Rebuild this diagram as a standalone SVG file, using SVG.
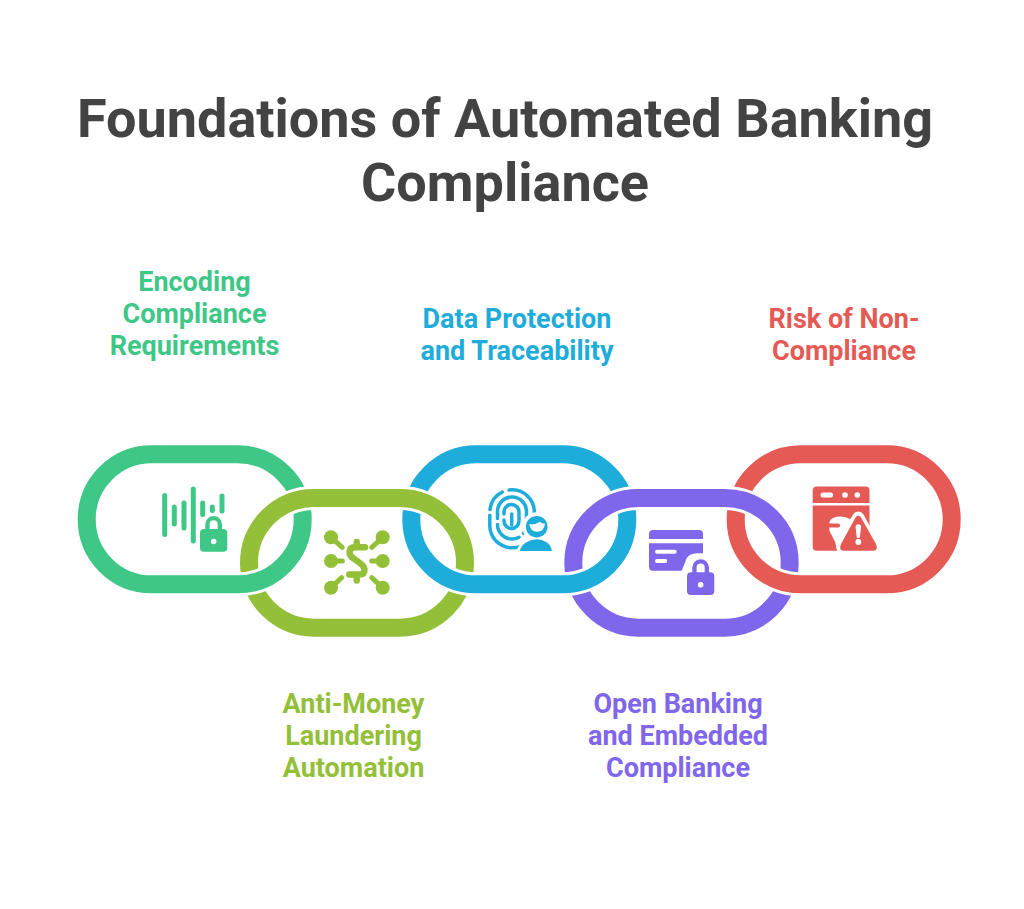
<svg xmlns="http://www.w3.org/2000/svg" width="1024" height="909" viewBox="0 0 1024 909">
<style>
text{font-family:Roboto,"Liberation Sans",sans-serif;text-anchor:middle}
.t{font-size:54px;font-weight:700;fill:#434343}
.l{font-size:27px;font-weight:700}
.ring{fill:none;stroke-width:18}
.cut{fill:none;stroke:#000;stroke-width:24}
.g{stroke:#3ec787}.gf{fill:#3ec787}
.o{stroke:#93bf39}.of{fill:#93bf39}
.b{stroke:#1eaddb}.bf{fill:#1eaddb}
.p{stroke:#8066ea}.pf{fill:#8066ea}
.r{stroke:#e55a55}.rf{fill:#e55a55}
.rl{fill:none;stroke-linecap:round}
.w{fill:#fff}
</style>
<defs>
<mask id="m1" maskUnits="userSpaceOnUse" x="0" y="0" width="1024" height="909"><rect width="1024" height="909" fill="#fff"/>
<path class="cut" d="M249 563A65 65 0 0 1 314 498H400A65 65 0 0 1 465 563"/></mask>
<mask id="m2" maskUnits="userSpaceOnUse" x="0" y="0" width="1024" height="909"><rect width="1024" height="909" fill="#fff"/>
<path class="cut" d="M302.7 519.3A65 65 0 0 1 237.7 584.3H151.7"/>
<path class="cut" d="M411.3 519.3A65 65 0 0 0 476.3 584.3H562.3A65 65 0 0 0 627.3 519.3"/></mask>
<mask id="m3" maskUnits="userSpaceOnUse" x="0" y="0" width="1024" height="909"><rect width="1024" height="909" fill="#fff"/>
<path class="cut" d="M249 563A65 65 0 0 1 314 498H400A65 65 0 0 1 465 563"/>
<path class="cut" d="M573.3 563A65 65 0 0 1 638.3 498H724.7A65 65 0 0 1 789.7 563"/></mask>
<mask id="m4" maskUnits="userSpaceOnUse" x="0" y="0" width="1024" height="909"><rect width="1024" height="909" fill="#fff"/>
<path class="cut" d="M411.3 519.3A65 65 0 0 0 476.3 584.3H562.3A65 65 0 0 0 627.3 519.3"/>
<path class="cut" d="M735.7 519.3A65 65 0 0 0 800.7 584.3H886.7"/></mask>
<mask id="m5" maskUnits="userSpaceOnUse" x="0" y="0" width="1024" height="909"><rect width="1024" height="909" fill="#fff"/>
<path class="cut" d="M573.3 563A65 65 0 0 1 638.3 498H724.7A65 65 0 0 1 789.7 563"/></mask>
<g id="lock">
<rect x="0" y="13" width="27.3" height="22.7" rx="4"/>
<path d="M7.45 14V8.35A6.2 6.2 0 0 1 19.85 8.35V14" fill="none" stroke="currentColor" stroke-width="4.3"/>
<circle cx="13.65" cy="25.5" r="2.8" class="w"/>
</g>
</defs>

<text class="t" x="505" y="137">Foundations of Automated Banking</text>
<text class="t" x="505" y="201">Compliance</text>

<g id="connectors"></g>

<g id="node-encoding">
<rect class="ring g" x="86.7" y="454.3" width="216" height="130" rx="65" mask="url(#m1)"/>
<path class="rl g" stroke-width="5" d="M164.7 495.5V534.5M174.3 507V524M184 503V528M193.3 489V541M202.7 503V514.5M212.3 507V510.5M222 496V511"/>
<use href="#lock" x="200" y="516" class="gf" color="#3ec787"/>
<text class="l gf" x="194.5" y="291">Encoding</text>
<text class="l gf" x="194.5" y="323">Compliance</text>
<text class="l gf" x="194.5" y="355">Requirements</text>
</g>

<g id="node-aml">
<rect class="ring o" x="249" y="498" width="216" height="129.7" rx="65" mask="url(#m2)"/>
<circle class="of" cx="331" cy="537.3" r="7"/><circle class="of" cx="382.7" cy="537.3" r="7"/>
<circle class="of" cx="331" cy="561" r="7"/><circle class="of" cx="382.7" cy="561" r="7"/>
<circle class="of" cx="331" cy="587.7" r="7"/><circle class="of" cx="382.7" cy="587.7" r="7"/>
<path class="rl o" stroke-width="5" d="M331 537.3L342.3 547.3M382.7 537.3L371.7 547.3M331 561H342.3M382.7 561H371.7M331 587.7L341.7 577.7M382.7 587.7L371.7 577.7"/>
<path class="rl o" stroke-width="6.4" d="M365 547.3H355Q349.5 547.3 349.5 552Q349.5 556 353.5 558.5L360.5 563.5Q364.5 566.5 364.5 570Q364.5 574.5 359.5 574.5H349.3M356.7 542V547M356.7 575V580.5"/>
<text class="l of" x="353.5" y="713">Anti-Money</text>
<text class="l of" x="353.5" y="745">Laundering</text>
<text class="l of" x="353.5" y="777">Automation</text>
</g>

<g id="node-data">
<rect class="ring b" x="411.3" y="454.3" width="216" height="130" rx="65" mask="url(#m3)"/>
<g class="rl b" stroke-width="3.5">
<rect x="489.8" y="489.8" width="44.5" height="58" rx="22.2" stroke-dasharray="62 6 60 6 22 7 30 6"/>
<rect x="497.5" y="497" width="29" height="42" rx="14.5" stroke-dasharray="45 6 30 6 30 6"/>
<rect x="504" y="504.5" width="15" height="24" rx="7.5" stroke-dasharray="45 6 20 6"/>
<path d="M511.7 514V525"/>
</g>
<circle cx="536.7" cy="526.7" r="14.5" class="w"/>
<path d="M516 555Q519 536 536 536Q553 536 555.5 555Z" class="w"/>
<circle cx="536.7" cy="526.7" r="10.8" class="bf"/>
<path d="M529.3 524Q534 525.5 540 521.7Q542 524 545 523.5Q544 531.8 537 531.8Q530.5 531.8 529.3 524Z" class="w"/>
<path d="M520 551Q520.5 546 526 542.5Q536.7 536 547 542.5Q551.5 546 551.7 551Z" class="bf"/>
<text class="l bf" x="517" y="328">Data Protection</text>
<text class="l bf" x="517" y="360">and Traceability</text>
</g>

<g id="node-open">
<rect class="ring p" x="573.3" y="498" width="216.4" height="129.7" rx="65" mask="url(#m4)"/>
<path class="pf" d="M649 539V534A4 4 0 0 1 653 530H699A4 4 0 0 1 703 534V539Z"/>
<path class="pf" d="M649 543.3H703V553.3H696.7Q689 554 686.7 558.3L681.7 570.7H653A4 4 0 0 1 649 566.7Z"/>
<path class="w" d="M657 549.7H674.7a2 2 0 0 1 0 4H657a2 2 0 0 1 0-4ZM657 559H665.3a2 2 0 0 1 0 4H657a2 2 0 0 1 0-4Z"/>
<use href="#lock" x="687" y="559.3" class="pf" color="#8066ea"/>
<text class="l pf" x="678" y="713">Open Banking</text>
<text class="l pf" x="678" y="745">and Embedded</text>
<text class="l pf" x="678" y="777">Compliance</text>
</g>

<g id="node-risk">
<rect class="ring r" x="735.7" y="454.3" width="216" height="130" rx="65" mask="url(#m5)"/>
<path class="rf" d="M812.7 503V490.5A4 4 0 0 1 816.7 486.5H865.5A4 4 0 0 1 869.5 490.5V503Z"/>
<path class="w" d="M823 492.5H830.5a2.5 2.5 0 0 1 0 5H823a2.5 2.5 0 0 1 0-5Z"/><circle class="w" cx="845" cy="495" r="2.8"/><circle class="w" cx="857.3" cy="495" r="2.8"/>
<path class="rf" d="M812.7 505.5H869.5V550.7H816.7A4 4 0 0 1 812.7 546.7Z"/>
<path class="w" d="M837.7 552L835 541.7L829.5 531Q829 524 829.5 522Q831 516.5 841 516.5Q846 516.5 850 519L858 515L880 553H838Z"/>
<path class="rl r" stroke-width="4.2" d="M829 525.5H838"/>
<path class="w" d="M858.3 511.5Q855 511.5 853 514.5L837 544Q834.5 552 842 553H875Q882 552 879.5 544L863.5 514.5Q861.5 511.5 858.3 511.5Z"/>
<path class="rf" d="M858.3 515.7Q856.5 515.7 855.5 517.5L841 544Q838.5 550.3 843.5 550.7H873.5Q878.5 550.3 876 544L861 517.5Q860 515.7 858.3 515.7Z"/>
<path class="w" d="M855.6 527A2.7 2.7 0 0 1 861 527L860 536.5A1.7 1.7 0 0 1 856.6 536.5Z"/><circle class="w" cx="858.3" cy="542" r="2.9"/>
<text class="l rf" x="844" y="328">Risk of Non-</text>
<text class="l rf" x="844" y="360">Compliance</text>
</g>
</svg>
